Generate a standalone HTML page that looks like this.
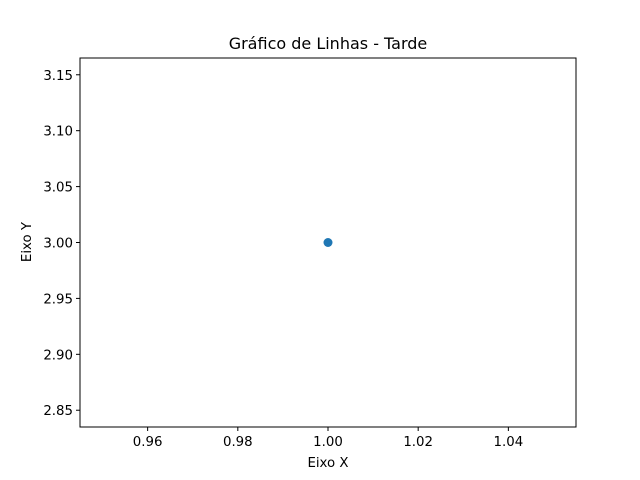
<!DOCTYPE html>
<html><head><meta charset="utf-8"><style>
body{margin:0;background:#fff}
svg{display:block;font-family:"DejaVu Sans","Liberation Sans",sans-serif}
</style></head><body>
<svg id="c" width="640" height="480" viewBox="0 0 640 480">
<rect width="640" height="480" fill="#fff"/>
<text x="328" y="49" text-anchor="middle" font-size="16">Gráfico de Linhas - Tarde</text>
<g id="ticks"></g>
<g id="marks"></g>
<rect x="80" y="58" width="496" height="369" fill="none" stroke="#000" stroke-width="1"/>
<text x="328" y="467" text-anchor="middle" font-size="13.33">Eixo X</text>
<text transform="translate(31,242) rotate(-90)" text-anchor="middle" font-size="13.33">Eixo Y</text>
</svg>
<script>
const xValues=[1];
const yValues=[3];
const xTicks=[0.96,0.98,1.00,1.02,1.04];
const yTicks=[2.85,2.90,2.95,3.00,3.05,3.10,3.15];
const xMin=0.945,xMax=1.055,yMin=2.835,yMax=3.165;
const L=80,R=576,T=58,B=427;
const sx=v=>L+(v-xMin)/(xMax-xMin)*(R-L);
const sy=v=>B-(v-yMin)/(yMax-yMin)*(B-T);
const NS="http://www.w3.org/2000/svg";
const tg=document.getElementById('ticks'),mg=document.getElementById('marks');
function mk(tag,a,p){const e=document.createElementNS(NS,tag);for(const k in a)e.setAttribute(k,a[k]);p.appendChild(e);return e;}
xTicks.forEach(t=>{const x=sx(t);
const l=mk('line',{x1:x,x2:x,y1:B,y2:B+4,stroke:'#000'},tg);


const s=mk('text',{x:x,y:B+19,'text-anchor':'middle','font-size':13.33},tg);s.textContent=t.toFixed(2);

});
yTicks.forEach(t=>{const y=sy(t);
const l=mk('line',{x1:L-4,x2:L,y1:y,y2:y,stroke:'#000'},tg);


const s=mk('text',{x:L-7,y:y+5,'text-anchor':'end','font-size':13.33},tg);s.textContent=t.toFixed(2);

});
if(xValues.length>1){const pl=mk('polyline',{points:xValues.map((v,i)=>sx(v)+','+sy(yValues[i])).join(' '),fill:'none',stroke:'#1f77b4','stroke-width':1.5},mg);

}
xValues.forEach((v,i)=>{const c=mk('circle',{cx:sx(v),cy:sy(yValues[i]),r:4.5,fill:'#1f77b4'},mg);

});
</script>
</body></html>
